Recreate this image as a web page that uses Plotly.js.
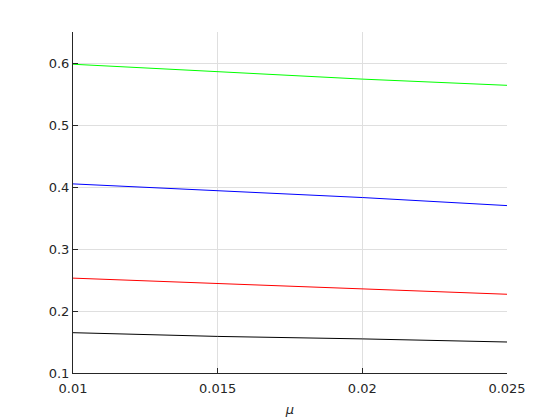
<!DOCTYPE html>
<html>
<head>
<meta charset="utf-8">
<script src="https://cdn.plot.ly/plotly-3.0.1.min.js"></script>
<style>
  html, body { margin: 0; padding: 0; background: #fff; }
  #chart { width: 560px; height: 420px; }
</style>
</head>
<body>
<div id="chart"></div>
<script>
// values
var mu = [0.01, 0.015, 0.02, 0.025];
var greenLine = [0.598, 0.586, 0.574, 0.564];
var blueLine = [0.405, 0.394, 0.383, 0.370];
var redLine = [0.253, 0.244, 0.235, 0.227];
var blackLine = [0.165, 0.159, 0.155, 0.150];

var xTickVals = [0.01, 0.015, 0.02, 0.025];
var xTickText = ['0.01', '0.015', '0.02', '0.025'];
var yTickVals = [0.1, 0.2, 0.3, 0.4, 0.5, 0.6];
var yTickText = ['0.1', '0.2', '0.3', '0.4', '0.5', '0.6'];

var mkLine = function(y, color){
    return {
        x: mu,
        y: y,
        type: 'scatter',
        mode: 'lines',
        line: { color: color, width: 1 },
        hoverinfo: 'skip'
    };
};

var data = [
    mkLine(greenLine, 'rgb(0,255,0)'),
    mkLine(blueLine, 'rgb(0,0,255)'),
    mkLine(redLine, 'rgb(255,0,0)'),
    mkLine(blackLine, 'rgb(0,0,0)')
];

var layout = {
    width: 560,
    height: 420,
    showlegend: false,
    paper_bgcolor: '#fff',
    plot_bgcolor: '#fff',
    margin: { l: 73, r: 53, t: 32, b: 47 },
    font: { family: 'DejaVu Sans, sans-serif', size: 13, color: 'rgb(38,38,38)' },
    xaxis: {
        title: { text: '<i>μ</i>', standoff: 10, font: { size: 13 } },
        range: [0.01, 0.025],
        tickvals: xTickVals,
        ticktext: xTickText,
        ticklabelstandoff: 3,
        showgrid: true,
        gridcolor: 'rgb(223,223,223)',
        zeroline: false,
        showline: true,
        linecolor: 'rgb(38,38,38)',
        linewidth: 1,
        ticks: 'inside',
        ticklen: 5,
        tickcolor: 'rgb(38,38,38)',
        automargin: false
    },
    yaxis: {
        range: [0.1, 0.65],
        tickvals: yTickVals,
        ticktext: yTickText,
        showgrid: true,
        gridcolor: 'rgb(223,223,223)',
        zeroline: false,
        showline: true,
        linecolor: 'rgb(38,38,38)',
        linewidth: 1,
        ticks: 'inside',
        ticklen: 5,
        tickcolor: 'rgb(38,38,38)',
        automargin: false
    }
};

Plotly.newPlot('chart', data, layout, { displayModeBar: false, staticPlot: true });
</script>
</body>
</html>
